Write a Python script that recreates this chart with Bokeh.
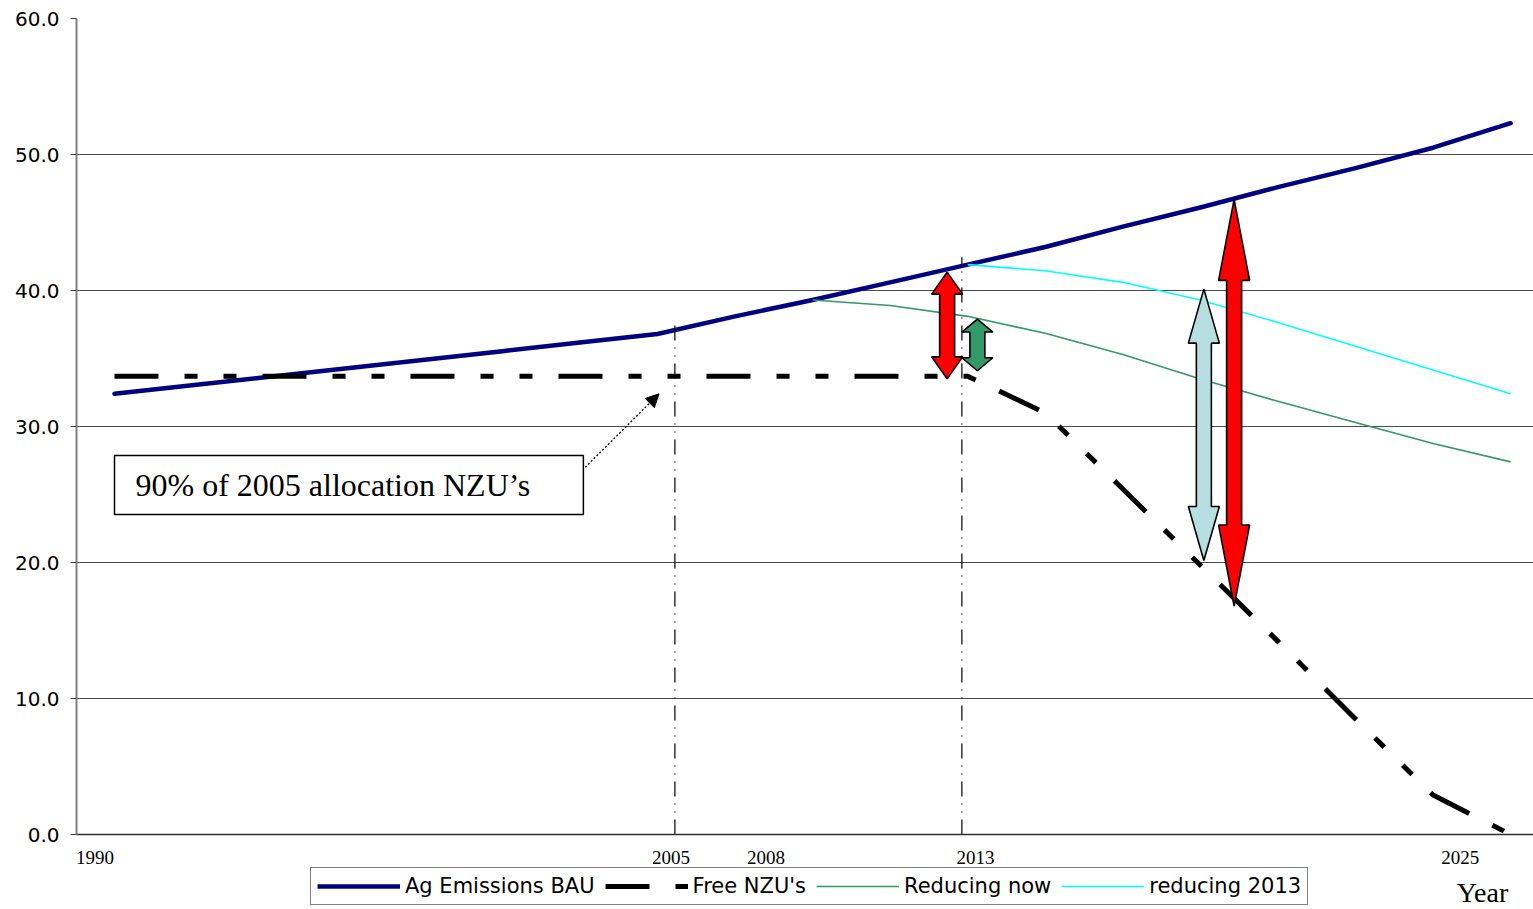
from bokeh.plotting import figure
from bokeh.layouts import column
from bokeh.models import (Range1d, FixedTicker, Legend, LegendItem, Label, Arrow,
                          NormalHead, NumeralTickFormatter)
from bokeh.embed import file_html
from bokeh.resources import INLINE

# ---------------- data ----------------
years = [1991, 1993, 1995, 1997, 1999, 2001, 2003, 2005, 2007, 2009,
         2011, 2013, 2015, 2017, 2019, 2021, 2023, 2025, 2027]
bau = [32.4, 33.03, 33.66, 34.29, 34.91, 35.54, 36.17, 36.8, 38.1, 39.3,
       40.6, 41.9, 43.2, 44.7, 46.1, 47.6, 49.0, 50.5, 52.3]
free_nzu = [33.7, 33.7, 33.7, 33.7, 33.7, 33.7, 33.7, 33.7, 33.7, 33.7,
            33.7, 33.7, 31.0, 25.4, 19.8, 14.2, 8.5, 2.9, 0.0]
reduce_years = [2009, 2011, 2013, 2015, 2017, 2019, 2021, 2023, 2025, 2027]
reducing_now = [39.3, 38.9, 38.1, 36.85, 35.3, 33.5, 31.85, 30.3, 28.75, 27.4]
r2013_years = [2013, 2015, 2017, 2019, 2021, 2023, 2025, 2027]
reducing_2013 = [41.9, 41.45, 40.6, 39.3, 37.65, 35.9, 34.15, 32.4]

series_names = ["Ag Emissions BAU", "Free NZU's", "Reducing now", "reducing 2013"]
tick_labels = ["1990", "2005", "2008", "2013", "2025"]
tick_pos = [1990.5, 2005.35, 2007.8, 2013.2, 2025.7]

# double arrows: x, top, bottom, colour, head length (px)
arrow_x = [2012.47, 2013.25, 2019.09, 2019.87]
arrow_top = [41.35, 37.9, 40.1, 46.7]
arrow_bottom = [33.5, 34.1, 20.15, 16.8]
arrow_colors = ["#FF0000", "#339966", "#B7DEE0", "#FF0000"]
arrow_head = [22, 13, 54, 81]

vline_x = [2005.45, 2012.85]
vline_top = [37.6, 42.45]

# ---------------- styles ----------------
styles = [dict(line_color="#000080", line_width=4.5),
          dict(line_color="black", line_width=5, line_dash="44 26 13 26 13 26",
               line_cap="butt"),
          dict(line_color="#339966", line_width=1.6),
          dict(line_color="#00FFFF", line_width=1.6)]

# ---------------- main figure ----------------
W = 1533
H_MAIN = 866
ML, MR, MT, MB = 76, 0, 18, 32
x0, x1 = 1990.02, 2027.59
y0, y1 = 0, 60
fw, fh = W - ML - MR, H_MAIN - MT - MB
xpp = (x1 - x0) / fw
ypp = (y1 - y0) / fh

p = figure(width=W, height=H_MAIN, x_range=Range1d(x0, x1), y_range=Range1d(y0, y1),
           output_backend="svg", toolbar_location=None,
           min_border_left=ML, min_border_right=MR, min_border_top=MT,
           min_border_bottom=MB)
p.outline_line_color = None
p.background_fill_color = "white"
p.border_fill_color = "white"

p.xgrid.grid_line_color = None
p.ygrid.grid_line_color = "#4a4a4a"
p.ygrid.grid_line_width = 1.2
p.yaxis.ticker = FixedTicker(ticks=[0, 10, 20, 30, 40, 50, 60])
p.yaxis.formatter = NumeralTickFormatter(format="0.0")
p.yaxis.major_label_text_font = "DejaVu Sans"
p.yaxis.major_label_text_font_size = "20px"
p.yaxis.major_label_text_color = "black"
p.yaxis.axis_line_color = "#808080"
p.yaxis.axis_line_width = 2
p.yaxis.major_tick_line_color = "#404040"
p.yaxis.major_tick_in = 0
p.yaxis.major_tick_out = 6
p.yaxis.minor_tick_line_color = None
p.yaxis.major_label_standoff = 11

p.xaxis.ticker = FixedTicker(ticks=tick_pos)
p.xaxis.major_label_overrides = {t: l for t, l in zip(tick_pos, tick_labels)}
p.xaxis.major_label_text_font = "Liberation Serif"
p.xaxis.major_label_text_font_size = "19px"
p.xaxis.major_label_text_color = "black"
p.xaxis.major_tick_line_color = None
p.xaxis.minor_tick_line_color = None
p.xaxis.axis_line_color = "#303030"
p.xaxis.axis_line_width = 1.5
p.xaxis.major_label_standoff = 10

# ---------------- series ----------------
p.line(years, bau, line_join="round", line_cap="round", **styles[0])
p.line(years, free_nzu, **styles[1])
p.line(reduce_years, reducing_now, **styles[2])
p.line(r2013_years, reducing_2013, **styles[3])

# vertical dash-dot-dot markers
p.segment(x0=vline_x, y0=[0, 0], x1=vline_x, y1=vline_top, line_color="black",
          line_width=1.2, line_dash="15 7 1 7 1 7")

# double-headed block arrows
xs, ys = [], []
hw, sw = 31 * xpp, 15 * xpp
for xc, yt, yb, hl in zip(arrow_x, arrow_top, arrow_bottom, arrow_head):
    h = hl * ypp
    xs.append([xc, xc + hw / 2, xc + sw / 2, xc + sw / 2, xc + hw / 2, xc,
               xc - hw / 2, xc - sw / 2, xc - sw / 2, xc - hw / 2])
    ys.append([yt, yt - h, yt - h, yb + h, yb + h, yb, yb + h, yb + h, yt - h, yt - h])
p.patches(xs, ys, fill_color=arrow_colors, line_color="black", line_width=1.6)

# annotation box with pointer
box_l, box_r, box_b, box_t = 1991.0, 2003.09, 23.53, 27.87
p.quad(left=[box_l], right=[box_r], bottom=[box_b], top=[box_t], fill_color="white",
       line_color="black", line_width=1.5)
p.add_layout(Label(x=box_l + 21 * xpp, y=(box_b + box_t) / 2,
                   text="90% of 2005 allocation NZU\u2019s",
                   text_font="Liberation Serif", text_font_size="32px",
                   text_baseline="middle", text_align="left", text_color="black"))
p.add_layout(Arrow(x_start=2003.14, y_start=27.0, x_end=2005.04, y_end=32.4,
                   line_color="black", line_width=1.3, line_dash="2 2",
                   end=NormalHead(size=13, fill_color="black", line_color="black")))

# ---------------- bottom strip: legend + "Year" ----------------
# the column aligns this strip's frame with the main frame (left edge at ML),
# so its x range is expressed in page pixels from ML to W.
H_BOT = 909 - H_MAIN
q = figure(width=W, height=H_BOT, x_range=Range1d(ML, W), y_range=Range1d(0, H_BOT),
           output_backend="svg", toolbar_location=None,
           x_axis_location=None, y_axis_location=None,
           min_border_left=ML, min_border_right=0, min_border_top=0, min_border_bottom=0)
q.grid.grid_line_color = None
q.outline_line_color = None
q.background_fill_color = "white"
q.border_fill_color = "white"

items = []
for name, st in zip(series_names, styles):
    # legend swatches only: placed outside the strip's visible range
    r = q.line([-60, -50], [-60, -50], **st)
    items.append(LegendItem(label=name, renderers=[r]))
legend = Legend(items=items, orientation="horizontal", location=(310 - ML, 4))
legend.label_text_font = "DejaVu Sans"
legend.label_text_font_size = "21px"
legend.label_text_color = "black"
legend.glyph_width = 83
legend.glyph_height = 20
legend.label_standoff = 5
legend.spacing = 10
legend.padding = 6
legend.margin = 0
legend.border_line_color = "black"
legend.border_line_width = 1.2
legend.background_fill_color = "white"
q.add_layout(legend, "center")

q.add_layout(Label(x=1482, y=17, text="Year", text_font="Liberation Serif",
                   text_font_size="28px", text_align="center",
                   text_baseline="middle", text_color="black"))

layout = column(p, q, spacing=0)
open("out.html", "w").write(file_html(layout, INLINE))
